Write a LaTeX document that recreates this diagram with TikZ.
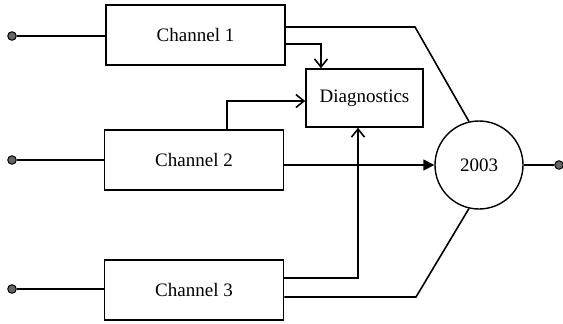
\documentclass[tikz,border=0pt]{standalone}
\usepackage{fontspec}
\setmainfont{Liberation Serif}
\usetikzlibrary{arrows.meta,calc}
\begin{document}
\begin{tikzpicture}[x=1pt,y=-1pt,line width=1.6pt,
  blk/.style={draw,minimum width=179pt,minimum height=60pt,inner sep=0pt,font=\fontsize{19}{22}\selectfont},
  dgbox/.style={draw,minimum width=117pt,minimum height=58pt,inner sep=0pt,font=\fontsize{19}{22}\selectfont},
  sumc/.style={draw,circle,minimum size=88pt,inner sep=0pt,line width=1.4pt,font=\fontsize{19}{22}\selectfont},
  port/.style={draw,circle,fill=black!60,minimum size=8.5pt,inner sep=0pt,line width=1pt},
  openarr/.style={-{Straight Barb[length=8pt,width=13pt,line width=1.6pt]}},
  fillarr/.style={-{Triangle[length=11pt,width=11pt]}}]
\useasboundingbox (0,0) rectangle (563,324);
\node[blk] (ch1) at (195.5,35) {Channel 1};
\node[blk] (ch2) at (194,160) {Channel 2};
\node[blk] (ch3) at (194,290) {Channel 3};
\node[dgbox] (diag) at (364.5,98) {Diagnostics};
\node[sumc] (sum) at (479,165) {2003};
\node[port] (in1) at (12,36) {};
\node[port] (in2) at (12,160) {};
\node[port] (in3) at (12,289) {};
\node[port] (out) at (559,165) {};
\draw (in1) -- (in1 -| ch1.west);
\draw (in2) -- (in2 -| ch2.west);
\draw (in3) -- (in3 -| ch3.west);
\draw (sum.east) -- (out);
% channel 1
\coordinate (a1) at (415,27);
\draw (ch1.east |- a1) -- (a1) -- (sum.103);
\coordinate (b1) at (321,44);
\draw[openarr] (ch1.east |- b1) -- (b1) -- (b1 |- diag.north);
% channel 2
\coordinate (k2) at (227,101);
\draw[openarr] (ch2.north -| k2) -- (k2) -- (diag.west |- k2);
\draw[fillarr] (ch2.east |- sum.west) -- (sum.west);
% channel 3
\coordinate (a3) at (358,278);
\draw[openarr] (ch3.east |- a3) -- (a3) -- (a3 |- diag.south);
\coordinate (b3) at (416,297);
\draw (ch3.east |- b3) -- (b3) -- (sum.-103);
\end{tikzpicture}
\end{document}
